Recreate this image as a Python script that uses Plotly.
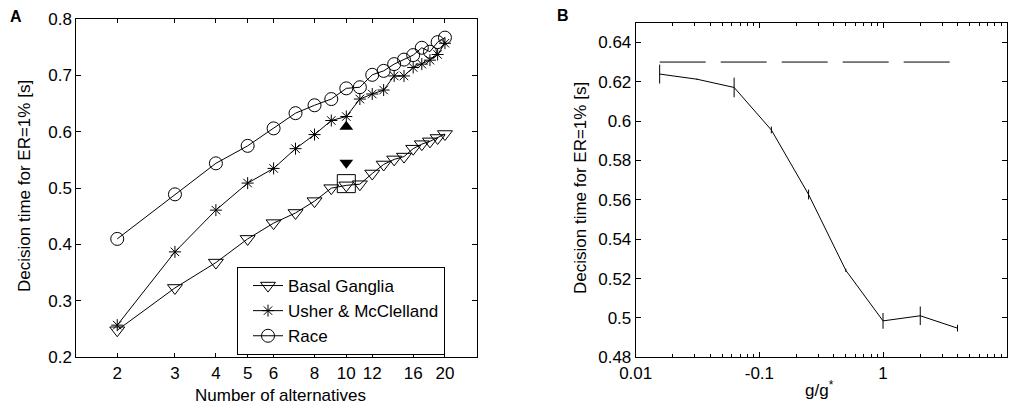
import math
import plotly.graph_objects as go

# ---------------- Data: panel A ----------------
n_alternatives = list(range(2, 21))
basal_ganglia = [0.248, 0.323, 0.368, 0.410, 0.438, 0.456, 0.477, 0.500, 0.505, 0.507,
                 0.526, 0.542, 0.551, 0.556, 0.570, 0.578, 0.583, 0.589, 0.596]
usher_mcclelland = [0.257, 0.387, 0.461, 0.509, 0.535, 0.570, 0.595, 0.620, 0.627, 0.658,
                    0.667, 0.674, 0.699, 0.699, 0.714, 0.720, 0.727, 0.737, 0.757]
race = [0.410, 0.489, 0.544, 0.575, 0.606, 0.633, 0.647, 0.658, 0.677, 0.679,
        0.701, 0.708, 0.720, 0.728, 0.736, 0.749, 0.742, 0.759, 0.767]
highlight_n = [10]
highlight_square = [0.508]
highlight_up = [0.609]
highlight_down = [0.545]

xticks_a = [2, 3, 4, 5, 6, 8, 10, 12, 16, 20]
xticklabels_a = [str(v) for v in xticks_a]
yticks_a = [0.2, 0.3, 0.4, 0.5, 0.6, 0.7, 0.8]
yticklabels_a = ["0.2", "0.3", "0.4", "0.5", "0.6", "0.7", "0.8"]

# ---------------- Data: panel B ----------------
g_ratio = [1/64, 1/32, 1/16, 1/8, 1/4, 1/2, 1, 2, 4]
decision_time_b = [0.6239, 0.6213, 0.6171, 0.5955, 0.5627, 0.5242, 0.4985, 0.5011, 0.4948]
error_b = [0.0048, 0.0003, 0.0050, 0.0017, 0.0025, 0.0008, 0.0040, 0.0047, 0.0017]
baseline_b = 0.63

xticks_b = [0.01, 0.1, 1, 10]
xticklabels_b = ["0.01", "-0.1", "1", "10"]
xminor_b = [m * d for d in (0.01, 0.1, 1) for m in range(2, 10)]
yticks_b = [0.48, 0.50, 0.52, 0.54, 0.56, 0.58, 0.60, 0.62, 0.64]
yticklabels_b = ["0.48", "0.5", "0.52", "0.54", "0.56", "0.58", "0.6", "0.62", "0.64"]

# ---------------- Figure ----------------
W, H = 1014, 410
FONT = "Liberation Sans, Arial, Helvetica, sans-serif"
FS = 17

def px_x(p):
    return p / W

def px_y(p):
    return 1 - p / H

fig = go.Figure()

fig.add_trace(go.Scatter(
    x=n_alternatives, y=basal_ganglia, name="Basal Ganglia", mode="lines+markers",
    line=dict(color="black", width=1),
    marker=dict(symbol="triangle-down-open", size=13, color="black", line=dict(width=1, color="black")),
    xaxis="x", yaxis="y"))
fig.add_trace(go.Scatter(
    x=n_alternatives, y=usher_mcclelland, name="Usher & McClelland", mode="lines+markers",
    line=dict(color="black", width=1),
    marker=dict(symbol="asterisk-open", size=10, color="black", line=dict(width=1, color="black")),
    xaxis="x", yaxis="y"))
fig.add_trace(go.Scatter(
    x=n_alternatives, y=race, name="Race", mode="lines+markers",
    line=dict(color="black", width=1),
    marker=dict(symbol="circle-open", size=13, color="black", line=dict(width=1, color="black")),
    xaxis="x", yaxis="y"))

fig.add_trace(go.Scatter(
    x=highlight_n, y=highlight_square, mode="markers", showlegend=False,
    marker=dict(symbol="square-open", size=18, color="black", line=dict(width=1, color="black")),
    xaxis="x", yaxis="y"))
fig.add_trace(go.Scatter(
    x=highlight_n, y=highlight_up, mode="markers", showlegend=False,
    marker=dict(symbol="triangle-up", size=12, color="black", line=dict(width=0)),
    xaxis="x", yaxis="y"))
fig.add_trace(go.Scatter(
    x=highlight_n, y=highlight_down, mode="markers", showlegend=False,
    marker=dict(symbol="triangle-down", size=12, color="black", line=dict(width=0)),
    xaxis="x", yaxis="y"))

# Panel B
fig.add_trace(go.Scatter(
    x=[g_ratio[0], g_ratio[-1]], y=[baseline_b, baseline_b], mode="lines", showlegend=False,
    line=dict(color="black", width=1, dash="46px,15px"),
    xaxis="x2", yaxis="y2"))
fig.add_trace(go.Scatter(
    x=g_ratio, y=decision_time_b, mode="lines", showlegend=False,
    line=dict(color="black", width=1),
    error_y=dict(type="data", array=error_b, visible=True, color="black", thickness=1, width=0),
    xaxis="x2", yaxis="y2"))

axis_common = dict(
    showline=True, linecolor="black", linewidth=1, mirror="ticks",
    ticks="inside", tickcolor="black", tickwidth=1,
    showgrid=False, zeroline=False, automargin=False,
    tickfont=dict(family=FONT, size=FS, color="black"),
)

fig.update_layout(
    width=W, height=H,
    margin=dict(l=0, r=0, t=0, b=0),
    paper_bgcolor="white", plot_bgcolor="white",
    font=dict(family=FONT, size=FS, color="black"),
    xaxis=dict(
        type="log", domain=[px_x(76.3), px_x(476.7)],
        range=[math.log10(1.5), math.log10(25)],
        tickmode="array", tickvals=xticks_a, ticktext=xticklabels_a, ticklen=4,
        anchor="y", **axis_common),
    yaxis=dict(
        domain=[px_y(357.3), px_y(19)], range=[0.2, 0.8],
        tickmode="array", tickvals=yticks_a, ticktext=yticklabels_a, ticklen=5,
        anchor="x", **axis_common),
    xaxis2=dict(
        type="log", domain=[px_x(635.7), px_x(1006.7)], range=[-2, 1],
        tickmode="array", tickvals=xticks_b, ticktext=xticklabels_b, ticklen=5,
        minor=dict(tickmode="array", tickvals=xminor_b, ticks="inside", ticklen=3,
                   tickcolor="black", tickwidth=1, showgrid=False),
        anchor="y2", **axis_common),
    yaxis2=dict(
        domain=[px_y(357.3), px_y(22.7)], range=[0.48, 0.65],
        tickmode="array", tickvals=yticks_b, ticktext=yticklabels_b, ticklen=5,
        anchor="x2", **axis_common),
    legend=dict(
        x=px_x(237), xanchor="left", y=px_y(267), yanchor="top",
        bgcolor="white", bordercolor="black", borderwidth=1,
        font=dict(family=FONT, size=17, color="black"),
        itemwidth=30, tracegroupgap=0, indentation=10),
    showlegend=True,
)

annotations = [
    dict(text="<b>A</b>", x=px_x(16), y=px_y(16), font=dict(size=16)),
    dict(text="<b>B</b>", x=px_x(563), y=px_y(15), font=dict(size=16)),
    dict(text="Number of alternatives", x=px_x(280), y=px_y(395)),
    dict(text="Decision time for ER=1% [s]", x=px_x(25), y=px_y(186), textangle=-90),
    dict(text="g/g<sup>*</sup>", x=px_x(819), y=px_y(389)),
    dict(text="Decision time for ER=1% [s]", x=px_x(581), y=px_y(188), textangle=-90),
]
for a in annotations:
    a.setdefault("font", {})
    a["font"] = dict(family=FONT, size=a["font"].get("size", FS), color="black")
    fig.add_annotation(xref="paper", yref="paper", xanchor="center", yanchor="middle",
                       showarrow=False, **a)

fig.write_html(
    "out.html",
    config={"displayModeBar": False},
    post_script="document.body.style.margin='0px';document.body.style.overflow='hidden';",
)
